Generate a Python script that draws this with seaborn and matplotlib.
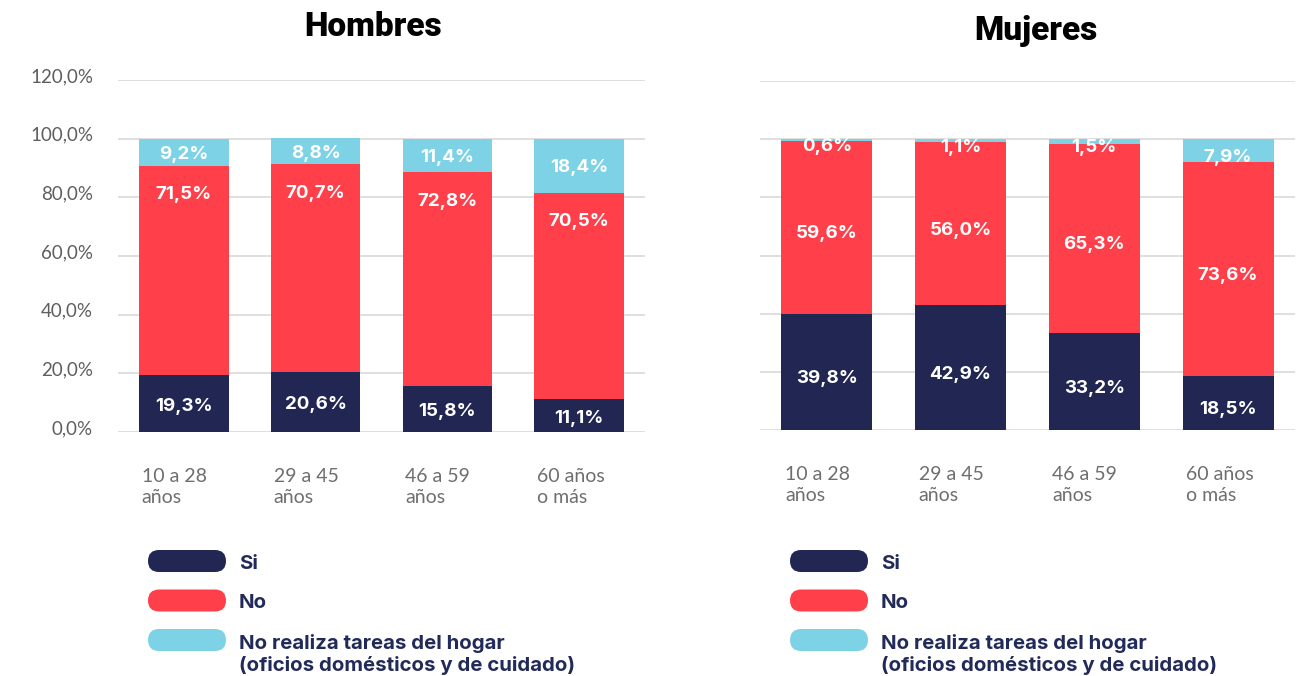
import numpy as np
import pandas as pd
import seaborn as sns
import matplotlib.pyplot as plt
from matplotlib.patches import FancyBboxPatch
from matplotlib.transforms import ScaledTranslation, IdentityTransform

# data
grupos = ["10 a 28\naños", "29 a 45\naños", "46 a 59\naños", "60 años\no más"]
hombres_si = [19.3, 20.6, 15.8, 11.1]
hombres_no = [71.5, 70.7, 72.8, 70.5]
hombres_nr = [9.2, 8.8, 11.4, 18.4]
mujeres_si = [39.8, 42.9, 33.2, 18.5]
mujeres_no = [59.6, 56.0, 65.3, 73.6]
mujeres_nr = [0.6, 1.1, 1.5, 7.9]
series = ["Si", "No", "No realiza tareas del hogar\n(oficios domésticos y de cuidado)"]
colores = ["#212652", "#FF404B", "#7DD3E5"]
yticks = [0, 20, 40, 60, 80, 100, 120]

W, H = 1303, 676
sns.set_style("white")
plt.rcParams["font.family"] = ["Roboto", "DejaVu Sans"]

fig = plt.figure(figsize=(W / 100, H / 100), dpi=100)
ax_h = fig.add_axes([118 / W, 1 - 432 / H, 527 / W, 352 / H])
ax_m = fig.add_axes([760 / W, 1 - 430 / H, 535 / W, 349 / H])


def pct(v):
    return f"{v:.1f}%".replace(".", ",")


def panel(ax, titulo, title_x, title_pad, si, no, nr, red_shift, drop):
    df = pd.DataFrame({"grupo": grupos, "si": si, "no": no, "nr": nr})
    df["c1"] = df["si"]
    df["c2"] = df["si"] + df["no"]
    df["c3"] = df["c2"] + df["nr"]

    # stacked bars drawn back to front with cumulative heights
    for col, color in zip(["c3", "c2", "c1"], colores[::-1]):
        sns.barplot(data=df, x="grupo", y=col, color=color, saturation=1,
                    width=0.68, errorbar=None, linewidth=0, ax=ax)

    lab = dict(color="white", fontsize=13.5, fontweight="bold", ha="center",
               va="center", family=["Inter", "DejaVu Sans"])
    for i, r in df.iterrows():
        ax.text(i, r["c1"] / 2 - drop, pct(r["si"]), **lab)
        y_no = r["c2"] - 10 if red_shift else (r["c1"] + r["c2"]) / 2 - drop
        ax.text(i, y_no, pct(r["no"]), **lab)
        ax.text(i, (r["c2"] + r["c3"]) / 2 - drop, pct(r["nr"]), **lab)

    ax.set_xlim(-0.5, 3.5)
    ax.set_ylim(0, 120)
    ax.set_yticks(yticks)
    ax.grid(axis="y", color="#d9d9d9", linewidth=1.2)
    ax.set_axisbelow(True)
    sns.despine(ax=ax, left=True, bottom=True)
    ax.set_xlabel("")
    ax.set_ylabel("")
    ax.tick_params(length=0)
    ax.tick_params(axis="x", pad=26)
    ax.tick_params(axis="y", pad=18)

    off = ScaledTranslation(-0.42, 0, fig.dpi_scale_trans)
    for t in ax.get_xticklabels():
        t.set_ha("left")
        t.set_transform(t.get_transform() + off)
        t.set_fontsize(14)
        t.set_color("#6e6e6e")
        t.set_family(["Lato", "DejaVu Sans"])
        t.set_linespacing(1.3)

    ax.set_title(titulo, fontsize=24, fontweight="black", color="black",
                 pad=title_pad, x=title_x)


panel(ax_h, "Hombres", 0.484, 31.5, hombres_si, hombres_no, hombres_nr, True, 0.8)
panel(ax_m, "Mujeres", 0.516, 29.5, mujeres_si, mujeres_no, mujeres_nr, False, 2.2)

ax_h.set_yticklabels([pct(v) for v in yticks], fontsize=13.5, color="#5e5e5e",
                     family=["Lato", "DejaVu Sans"])
up = ScaledTranslation(0, 0.05, fig.dpi_scale_trans)
for t in ax_h.get_yticklabels():
    t.set_transform(t.get_transform() + up)
ax_m.set_yticklabels([])

# legends with rounded swatches, below each panel
for x0 in (148, 790):
    for k, (name, color) in enumerate(zip(series, colores)):
        yc = 561 + 39.5 * k
        pill = FancyBboxPatch((x0, H - yc - 11), 78, 22,
                              boxstyle="round,pad=0,rounding_size=11",
                              facecolor=color, edgecolor="none",
                              transform=IdentityTransform())
        fig.add_artist(pill)
        fig.text((x0 + 91) / W, 1 - (yc - 6) / H, name, ha="left", va="top",
                 fontsize=14.7, fontweight="bold", color="#222a5a",
                 family=["Inter", "DejaVu Sans"], linespacing=1.2)

fig.savefig("out.png", dpi=100)
plt.close(fig)
